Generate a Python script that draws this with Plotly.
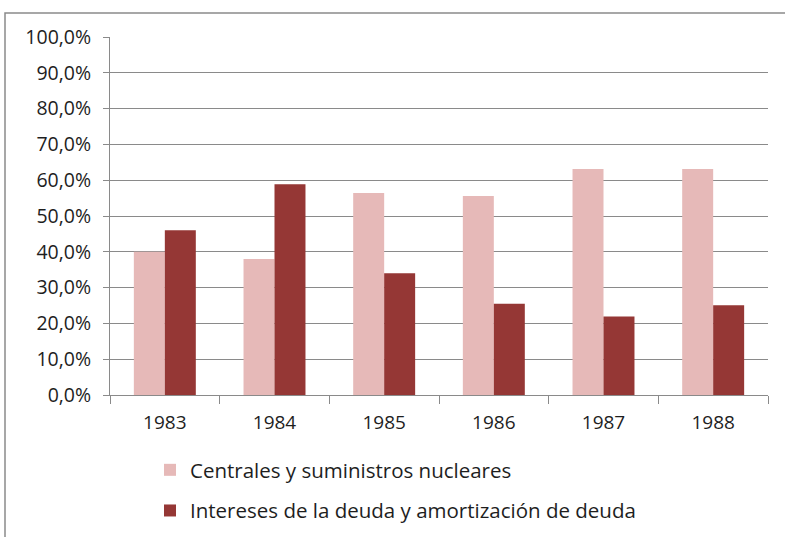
import plotly.graph_objects as go

years = ["1983", "1984", "1985", "1986", "1987", "1988"]
centrales = [40.0, 38.0, 56.4, 55.6, 63.1, 63.1]
intereses = [46.0, 58.9, 34.0, 25.5, 21.9, 25.1]
series_names = ["Centrales y suministros nucleares",
                "Intereses de la deuda y amortización de deuda"]
y_ticks = [0, 10, 20, 30, 40, 50, 60, 70, 80, 90, 100]
y_ticktext = [f"{v:.1f}".replace(".", ",") + "%" for v in y_ticks]

fig = go.Figure()
fig.add_trace(go.Bar(x=years, y=centrales, name=series_names[0],
                     marker=dict(color="#E6B9B8", line=dict(width=0)),
                     legendgroup="a"))
fig.add_trace(go.Bar(x=years, y=intereses, name=series_names[1],
                     marker=dict(color="#953735", line=dict(width=0)),
                     legendgroup="b"))

W, H = 785, 537
L, R, T, B = 110, 17, 37, 142
pw, ph = W - L - R, H - T - B

def px_x(p):
    return (p - L) / pw

def px_y(p):
    return (H - B - p) / ph

fig.update_layout(
    width=W, height=H,
    margin=dict(l=L, r=R, t=T, b=B, autoexpand=False),
    paper_bgcolor="white", plot_bgcolor="white",
    barmode="group", bargap=0.435, bargroupgap=0,
    font=dict(family="Open Sans", size=18, color="#1e1e1e"),
    showlegend=True,
    legend=dict(orientation="v", x=px_x(150), y=px_y(450), xanchor="left", yanchor="top",
                font=dict(size=20.5, color="#1e1e1e"), tracegroupgap=11,
                traceorder="grouped"),
    xaxis=dict(showline=True, linecolor="#8a8a8a", linewidth=1,
               ticks="outside", tickson="boundaries", ticklen=8, tickcolor="#8a8a8a",
               ticklabelstandoff=10,
               showgrid=False, tickfont=dict(size=19), fixedrange=True),
    yaxis=dict(range=[0, 100], tickvals=y_ticks, ticktext=y_ticktext,
               showline=True, linecolor="#8a8a8a", linewidth=1,
               ticks="outside", ticklen=6, tickcolor="#8a8a8a",
               ticklabelstandoff=8,
               showgrid=True, gridcolor="#8a8a8a", gridwidth=1,
               zeroline=False, tickfont=dict(size=19.5), fixedrange=True),
    shapes=[dict(type="rect", xref="paper", yref="paper",
                 x0=px_x(5), x1=px_x(800), y0=px_y(560), y1=px_y(13),
                 line=dict(color="#8a8a8a", width=1.5), fillcolor="rgba(0,0,0,0)",
                 layer="below")],
)

fig.write_html("out.html", config={"displayModeBar": False},
               post_script="document.body.style.margin='0';document.body.style.padding='0';")
